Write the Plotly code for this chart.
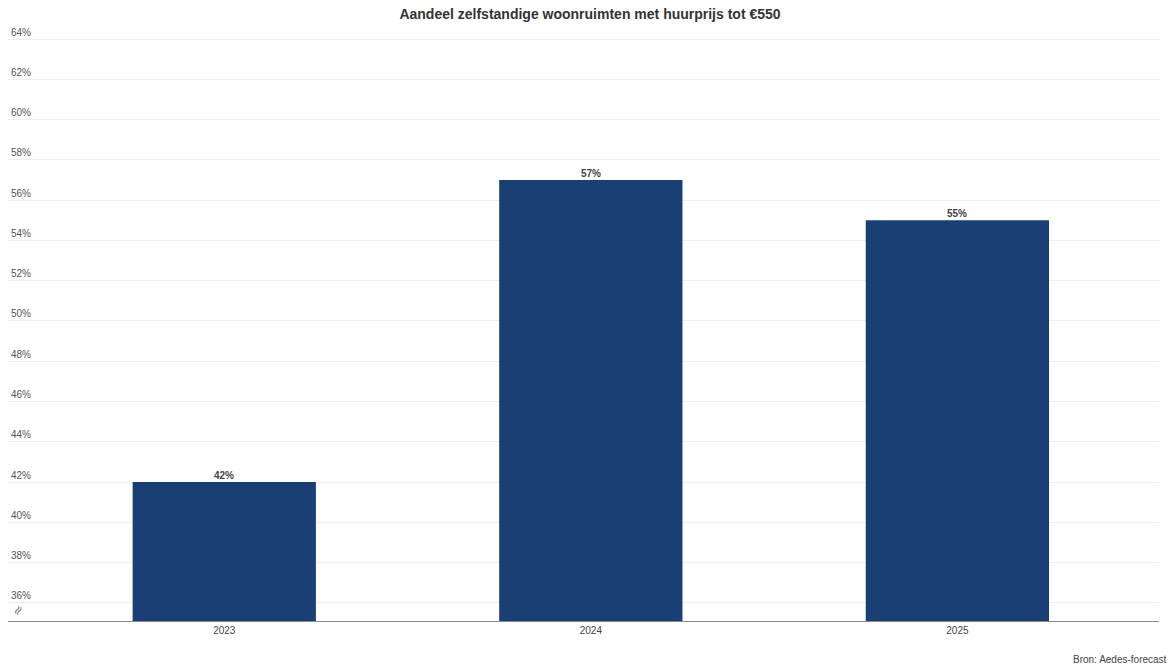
import plotly.graph_objects as go

years = ["2023", "2024", "2025"]
shares = [42, 57, 55]
y_ticks = [36, 38, 40, 42, 44, 46, 48, 50, 52, 54, 56, 58, 60, 62, 64]
y_tick_labels = [f"{v}%" for v in y_ticks]
bar_labels = [f"{v}%" for v in shares]

FONT = "Liberation Sans, Arial, sans-serif"

fig = go.Figure()
fig.add_trace(go.Bar(
    x=years, y=shares, width=0.5,
    marker=dict(color="#1a3f75", line=dict(width=0)),
    hoverinfo="skip",
))

for i, (v, lab) in enumerate(zip(shares, bar_labels)):
    fig.add_annotation(x=i, y=v, xref="x", yref="y", text=f"<b>{lab}</b>",
                       showarrow=False, yanchor="bottom", yshift=-1,
                       font=dict(family=FONT, size=10, color="#444"))

fig.update_layout(
    width=1173, height=668,
    margin=dict(l=8, r=14, t=26, b=47),
    paper_bgcolor="white", plot_bgcolor="white",
    showlegend=False,
    font=dict(family=FONT, color="#555"),
    title=dict(text="<b>Aandeel zelfstandige woonruimten met huurprijs tot €550</b>",
               x=0.503, xanchor="center", y=0.979, yanchor="middle",
               font=dict(size=14, color="#333")),
    xaxis=dict(type="category", range=[-0.59, 2.55], showgrid=False,
               showline=True, linecolor="#888", linewidth=1,
               ticks="", tickfont=dict(size=10, color="#444"), fixedrange=True),
    yaxis=dict(range=[35.1, 64.65], tickvals=y_ticks, ticktext=y_tick_labels,
               ticklabelposition="inside top", showgrid=True, gridcolor="#eeeeee",
               gridwidth=1, zeroline=False, showline=False, ticks="",
               tickfont=dict(size=10, color="#555"), fixedrange=True),
)

fig.add_annotation(text="≈", xref="paper", yref="paper", x=0.0087, y=0.017,
                   showarrow=False, textangle=-60, xanchor="center", yanchor="middle",
                   font=dict(family="DejaVu Sans", size=13, color="#777"))
fig.add_annotation(text="Bron: Aedes-forecast", xref="paper", yref="paper",
                   x=1.008, y=-0.065, xanchor="right", yanchor="middle", showarrow=False,
                   borderpad=0, font=dict(size=10, color="#444"))

fig.write_html("out.html")
